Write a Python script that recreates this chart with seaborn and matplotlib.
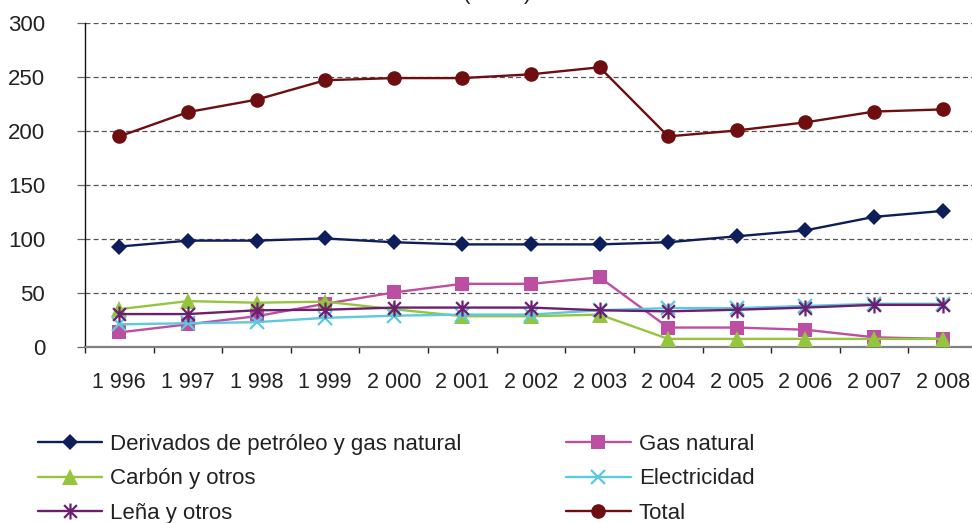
import numpy as np
import pandas as pd
import seaborn as sns
import matplotlib
matplotlib.use("Agg")
import matplotlib.pyplot as plt
from matplotlib.path import Path
from matplotlib.lines import Line2D

# Energy consumption by source, 1996-2008
years = ["1 996", "1 997", "1 998", "1 999", "2 000", "2 001", "2 002",
         "2 003", "2 004", "2 005", "2 006", "2 007", "2 008"]
derivados = [93, 98.5, 98.5, 100.5, 97, 95, 95, 95, 97, 102.5, 108, 120.5, 126]
gas_natural = [13.5, 21, 28.5, 40, 50.5, 58.5, 58.5, 64.5, 18, 18, 16, 9, 7.5]
carbon = [35, 42.5, 41, 42, 35, 28.5, 28.5, 30, 7.5, 7.5, 7.5, 7.5, 7.5]
electricidad = [21, 22, 23, 27, 29, 30, 30, 34, 36, 36, 38, 40, 40]
lena = [30.5, 30.5, 34, 34.5, 36.5, 36.5, 36.5, 34, 33, 34.5, 36.5, 39, 39]
total = [195, 217.5, 229, 247, 249, 249, 252.5, 259, 195, 200.5, 208, 218, 220]

series_names = ["Derivados de petróleo y gas natural", "Gas natural",
                "Carbón y otros", "Electricidad", "Leña y otros", "Total"]
series_values = [derivados, gas_natural, carbon, electricidad, lena, total]

sns.set_theme(style="white")
plt.rcParams["font.family"] = ["Liberation Sans", "DejaVu Sans"]

# asterisk marker: vertical stroke plus two diagonals
asterisk = Path(
    [(0, -1), (0, 1), (-0.8, -0.8), (0.8, 0.8), (-0.8, 0.8), (0.8, -0.8)],
    [Path.MOVETO, Path.LINETO, Path.MOVETO, Path.LINETO, Path.MOVETO, Path.LINETO],
)

styles = {
    "Derivados de petróleo y gas natural": dict(color="#0E1E5B", marker="D", ms=8.5, mew=0),
    "Gas natural": dict(color="#BD4FA2", marker="s", ms=9.5, mew=0),
    "Carbón y otros": dict(color="#93C63C", marker="^", ms=11.5, mew=0),
    "Electricidad": dict(color="#5CC9DD", marker="x", ms=10.5, mew=1.6),
    "Leña y otros": dict(color="#6C1F70", marker=asterisk, ms=11.5, mew=1.6),
    "Total": dict(color="#6E0E10", marker="o", ms=10.5, mew=0),
}

fig = plt.figure(figsize=(9.72, 5.23), dpi=100)
ax = fig.add_axes([85 / 972, 1 - 347 / 523, 892 / 972, 324 / 523])

x = np.arange(len(years))
for name, vals in zip(series_names, series_values):
    st = styles[name]
    sns.lineplot(x=x, y=vals, ax=ax, color=st["color"], marker=st["marker"],
                 markersize=st["ms"], markeredgewidth=st["mew"],
                 markeredgecolor=st["color"], linewidth=1.7, legend=False,
                 zorder=3)

ax.set_xlim(-0.5, len(years) - 0.5)
ax.set_ylim(0, 300)
ax.set_yticks(np.arange(0, 301, 50))
ax.set_xticks(x)
ax.set_xticklabels(years)
ax.set_xticks(np.arange(-0.5, len(years), 1), minor=True)
ax.set_xlabel("")
ax.set_ylabel("")

ax.yaxis.grid(True, color="#555555", linestyle=(0, (4, 2.5)), linewidth=0.9)
ax.xaxis.grid(False)
for sp in ("top", "right"):
    ax.spines[sp].set_visible(False)
ax.spines["left"].set_color("#111111")
ax.spines["left"].set_linewidth(1.0)
ax.spines["bottom"].set_color("#808080")
ax.spines["bottom"].set_linewidth(1.6)

ax.tick_params(axis="y", which="major", direction="out", length=5.8, width=0.9,
               color="#666666", pad=23, labelsize=16, labelcolor="#222222", left=True)
ax.tick_params(axis="x", which="major", length=0, pad=18, labelsize=15.5,
               labelcolor="#222222")
ax.tick_params(axis="x", which="minor", direction="out", length=4.3, width=1.0,
               color="#222222", bottom=True)

# title line above the plot area
fig.text(497 / 972, 1 + 1 / 523, "(kTEP)", ha="center", va="baseline",
         fontsize=16, color="#222222")

handles = []
for name in series_names:
    st = styles[name]
    handles.append(Line2D([], [], color=st["color"], marker=st["marker"],
                          markersize=st["ms"], markeredgewidth=st["mew"],
                          markeredgecolor=st["color"], linewidth=1.7, label=name))
order = [0, 2, 4, 1, 3, 5]
fig.legend([handles[i] for i in order], [series_names[i] for i in order],
           loc="upper left", bbox_to_anchor=(38 / 972, 1 - 434 / 523),
           ncol=2, frameon=False, fontsize=16, handlelength=2.9,
           handletextpad=0.36, columnspacing=4.7, labelspacing=0.6,
           borderpad=0, borderaxespad=0, labelcolor="#222222")

fig.savefig("out.png", dpi=100)
